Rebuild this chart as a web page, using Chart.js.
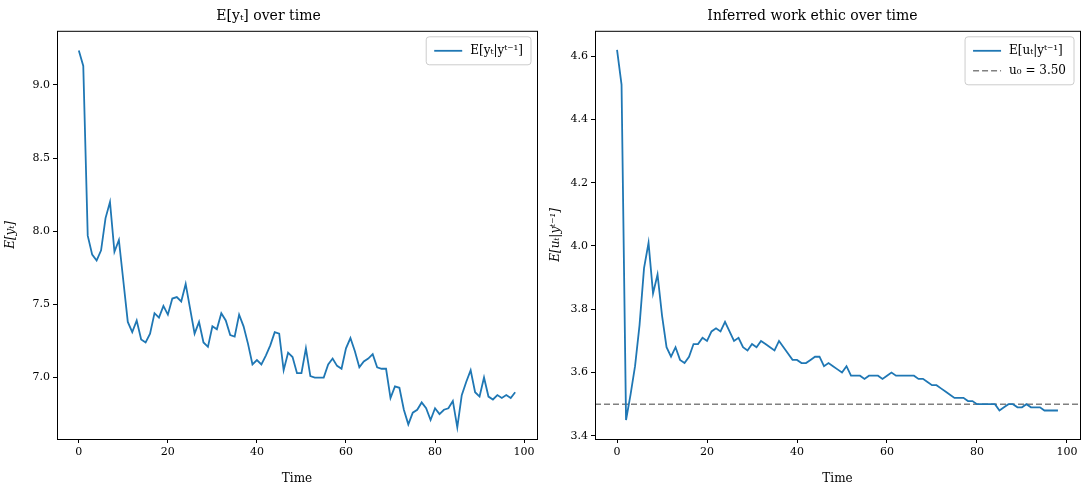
<!DOCTYPE html>
<html><head><meta charset="utf-8">
<script src="https://cdn.jsdelivr.net/npm/chart.js@4"></script>
<style>
body{margin:0;background:#fff;width:1089px;height:490px;position:relative;overflow:hidden}
.box{position:absolute;top:0;height:490px}
</style></head><body>
<div class="box" style="left:0;width:545px"><canvas id="c1"></canvas></div>
<div class="box" style="left:545px;width:544px"><canvas id="c2"></canvas></div>
<script>
// values
const expY = [9.235,9.13,7.97,7.84,7.80,7.87,8.09,8.20,7.86,7.94,7.66,7.38,7.31,7.39,7.26,7.24,7.30,7.44,7.41,7.49,
  7.43,7.54,7.55,7.52,7.64,7.47,7.30,7.38,7.24,7.21,7.35,7.33,7.44,7.39,7.29,7.28,7.43,7.35,7.23,7.09,
  7.12,7.09,7.15,7.22,7.31,7.30,7.05,7.17,7.14,7.03,7.03,7.20,7.01,7.00,7.00,7.00,7.09,7.13,7.08,7.06,
  7.20,7.27,7.18,7.07,7.11,7.13,7.16,7.07,7.06,7.06,6.86,6.94,6.93,6.78,6.68,6.76,6.78,6.83,6.79,6.71,
  6.79,6.75,6.78,6.79,6.84,6.66,6.88,6.97,7.05,6.90,6.87,7.00,6.87,6.85,6.88,6.86,6.88,6.86,6.90];
const expU = [4.62,4.51,3.45,3.53,3.62,3.75,3.93,4.01,3.85,3.91,3.78,3.68,3.65,3.68,3.64,3.63,3.65,3.69,3.69,3.71,
  3.70,3.73,3.74,3.73,3.76,3.73,3.70,3.71,3.68,3.67,3.69,3.68,3.70,3.69,3.68,3.67,3.70,3.68,3.66,3.64,
  3.64,3.63,3.63,3.64,3.65,3.65,3.62,3.63,3.62,3.61,3.60,3.62,3.59,3.59,3.59,3.58,3.59,3.59,3.59,3.58,
  3.59,3.60,3.59,3.59,3.59,3.59,3.59,3.58,3.58,3.57,3.56,3.56,3.55,3.54,3.53,3.52,3.52,3.52,3.51,3.51,
  3.50,3.50,3.50,3.50,3.50,3.48,3.49,3.50,3.50,3.49,3.49,3.50,3.49,3.49,3.49,3.48,3.48,3.48,3.48];
const u0 = 3.5;
const xMin = -4.9, xMax = 102.9;
const xTicks = [0, 20, 40, 60, 80, 100];
const yTicks1 = [7.0, 7.5, 8.0, 8.5, 9.0];
const yTicks2 = [3.4, 3.6, 3.8, 4.0, 4.2, 4.4, 4.6];

const BLUE = "#1f77b4", FONT = "'DejaVu Serif', serif";
Chart.defaults.font.family = FONT;
Chart.defaults.color = "#000";
const pts = (a) => a.map((v, i) => ({ x: i, y: v }));

const frame = {
  id: "frame",
  afterDraw(ch) {
    const { ctx, chartArea: a } = ch;
    ctx.save(); ctx.strokeStyle = "#000"; ctx.lineWidth = 1;
    ctx.strokeRect(a.left + .5, a.top + .5, a.right - a.left, a.bottom - a.top);
    // legend inside upper right
    const ds = ch.data.datasets;
    ctx.font = "12px " + FONT;
    const w = Math.max(...ds.map(d => ctx.measureText(d.label).width)) + 52, h = ds.length * 20 + 8;
    const x0 = a.right - w - 6, y0 = a.top + 6;
    ctx.fillStyle = "rgba(255,255,255,.85)"; ctx.strokeStyle = "#ccc";
    ctx.beginPath(); ctx.roundRect(x0, y0, w, h, 3); ctx.fill(); ctx.stroke();
    ds.forEach((d, i) => {
      const yy = y0 + 14 + i * 20;
      ctx.strokeStyle = d.borderColor; ctx.lineWidth = d.borderWidth; ctx.setLineDash(d.borderDash || []);
      ctx.beginPath(); ctx.moveTo(x0 + 8, yy); ctx.lineTo(x0 + 36, yy); ctx.stroke();
      ctx.setLineDash([]); ctx.fillStyle = "#000"; ctx.textBaseline = "middle";
      ctx.fillText(d.label, x0 + 44, yy);
    });
    ctx.restore();
  }
};

function mk(id, title, ytitle, datasets, ymin, ymax, yt, yw, padR) {
  new Chart(document.getElementById(id), {
    type: "line",
    data: { datasets },
    plugins: [frame],
    options: {
      responsive: true, maintainAspectRatio: false, animation: false,
      layout: { padding: { right: padR, top: 0 } },
      elements: { point: { radius: 0 }, line: { tension: 0 } },
      plugins: { legend: { display: false }, tooltip: { enabled: false },
        title: { display: true, text: title, font: { size: 14, weight: "normal" }, padding: { top: 8, bottom: 6 } } },
      scales: {
        x: { type: "linear", min: xMin, max: xMax,
          afterBuildTicks: s => { s.ticks = xTicks.map(v => ({ value: v })); },
          ticks: { font: { size: 11 }, callback: v => v },
          grid: { drawOnChartArea: false, tickLength: 4, color: "#000" }, border: { display: false },
          title: { display: true, text: "Time", font: { size: 12 } },
          afterFit: s => { s.height = 51; } },
        y: { min: ymin, max: ymax,
          afterBuildTicks: s => { s.ticks = yt.map(v => ({ value: v })); },
          ticks: { font: { size: 11 }, callback: v => v.toFixed(1) },
          grid: { drawOnChartArea: false, tickLength: 4, color: "#000" }, border: { display: false },
          title: { display: true, text: ytitle, font: { size: 12, style: "italic" } },
          afterFit: s => { s.width = yw; } }
      }
    }
  });
}

mk("c1", "E[yₜ] over time", "E[yₜ]",
  [{ label: "E[yₜ|yᵗ⁻¹]", data: pts(expY), borderColor: BLUE, borderWidth: 1.8 }],
  6.58, 9.37, yTicks1, 57, 8);

mk("c2", "Inferred work ethic over time", "E[uₜ|yᵗ⁻¹]",
  [{ label: "E[uₜ|yᵗ⁻¹]", data: pts(expU), borderColor: BLUE, borderWidth: 1.8 },
   { label: "u₀ = 3.50", data: [{ x: xMin, y: u0 }, { x: xMax, y: u0 }], borderColor: "#808080", borderWidth: 1.6, borderDash: [6, 3] }],
  3.39, 4.68, yTicks2, 50, 9);
</script>
</body></html>
